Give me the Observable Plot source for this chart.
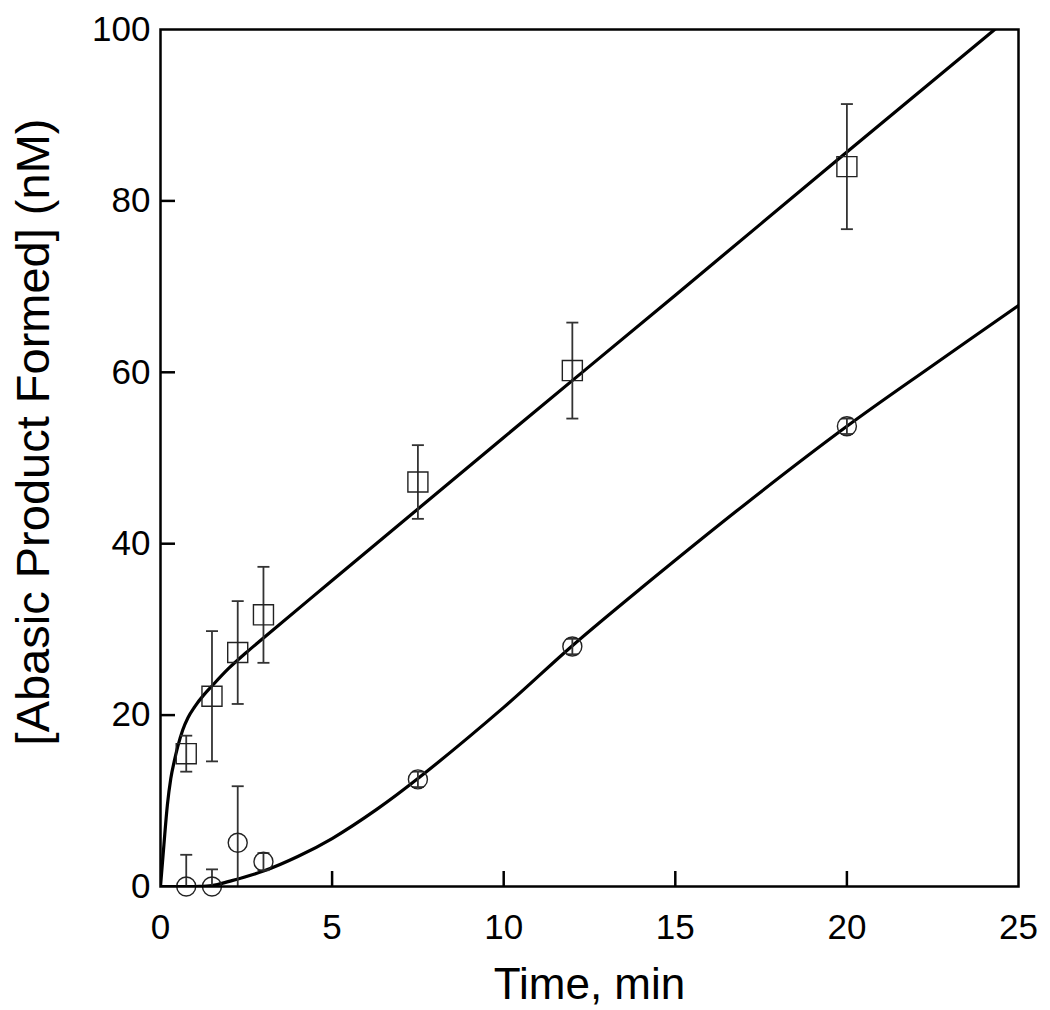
<!DOCTYPE html>
<html>
<head>
<meta charset="utf-8">
<script src="https://cdn.jsdelivr.net/npm/d3@7"></script>
<script src="https://cdn.jsdelivr.net/npm/@observablehq/plot@0.6"></script>
<style>
  html, body { margin: 0; padding: 0; background: #fff; }
</style>
</head>
<body>
<div id="chart"></div>
<script>
// ---- data ----
const xTicks = [0, 5, 10, 15, 20, 25];
const yTicks = [0, 20, 40, 60, 80, 100];
const xInnerTicks = [5, 10, 15, 20];
const yInnerTicks = [20, 40, 60, 80];

// squares
const sqTime = [0.75, 1.5, 2.25, 3, 7.5, 12, 20];
const sqValue = [15.5, 22.2, 27.3, 31.7, 47.2, 60.2, 84.0];
const sqError = [2.1, 7.6, 6.0, 5.6, 4.3, 5.6, 7.3];

// circles
const ciTime = [0.75, 1.5, 2.25, 3, 7.5, 12, 20];
const ciValue = [0, 0, 5.1, 2.9, 12.5, 28.0, 53.7];
const ciError = [3.7, 2.0, 6.6, 1.0, 0.9, 0.9, 0.9];

// fitted curves
const fitSqTime = [0, 0.1, 0.2, 0.3, 0.4, 0.5, 0.65, 0.8, 1, 1.25, 1.5, 2, 2.5, 3, 5, 10, 15, 20, 25];
const fitSqValue = [0, 4.9, 9.5, 12.6, 14.6, 16.3, 18.3, 19.7, 21.0, 22.3, 23.4, 25.5, 27.3, 29.0, 35.7, 52.4, 69.0, 85.7, 102.3];
const fitCiTime = [0, 1, 1.5, 2, 3, 4, 5, 6.3, 7.5, 10, 12, 14, 17, 20, 22.5, 25];
const fitCiValue = [0, 0, 0.1, 0.6, 1.8, 3.5, 5.6, 9.0, 12.6, 20.9, 28.1, 34.8, 44.5, 53.7, 60.8, 67.8];

const xLabel = "Time, min";
const yLabel = "[Abasic Product Formed] (nM)";

// ---- tables built from the arrays ----
const squares = sqTime.map((t, i) => ({t, v: sqValue[i], e: sqError[i]}));
const circles = ciTime.map((t, i) => ({t, v: ciValue[i], e: ciError[i]}));
const fitSq = fitSqTime.map((t, i) => ({t, v: fitSqValue[i]}));
const fitCi = fitCiTime.map((t, i) => ({t, v: fitCiValue[i]}));

const capSymbol = {
  draw(context, size) {
    const r = Math.sqrt(size / Math.PI);
    context.moveTo(-r, 0);
    context.lineTo(r, 0);
  }
};

function errorMarks(data) {
  return [
    Plot.link(data, {x1: "t", x2: "t", y1: d => d.v - d.e, y2: d => d.v + d.e,
      stroke: "#333", strokeWidth: 1.8, clip: true}),
    Plot.dot(data, {x: "t", y: d => d.v + d.e, symbol: capSymbol, r: 6,
      stroke: "#333", strokeWidth: 1.8, fill: "none", clip: true}),
    Plot.dot(data, {x: "t", y: d => d.v - d.e, symbol: capSymbol, r: 6,
      stroke: "#333", strokeWidth: 1.8, fill: "none", clip: true})
  ];
}

const W = 1050, H = 1010, ML = 160, MR = 32, MT = 29, MB = 124;
const frameW = W - ML - MR, frameH = H - MT - MB, tickLen = 15;

const chart = Plot.plot({
  width: W,
  height: H,
  marginLeft: ML,
  marginRight: MR,
  marginTop: MT,
  marginBottom: MB,
  style: {fontFamily: "'Liberation Sans', Arial, Helvetica, sans-serif", color: "#000", background: "#fff", overflow: "visible"},
  x: {domain: [0, 25]},
  y: {domain: [0, 100]},
  marks: [
    // inward tick marks
    Plot.tickX(xInnerTicks, {x: d => d, insetTop: frameH - tickLen, stroke: "#000", strokeWidth: 2.5}),
    Plot.ruleY(yInnerTicks, {y: d => d, insetRight: frameW - tickLen, stroke: "#000", strokeWidth: 2.5}),
    // tick labels
    Plot.axisX(xTicks, {tickSize: 0, tickPadding: 28, fontSize: 35, fill: "#000", label: null}),
    Plot.axisY(yTicks, {tickSize: 0, tickPadding: 10, fontSize: 35, fill: "#000", label: null}),
    // axis titles
    Plot.text([xLabel], {text: d => d, frameAnchor: "bottom", dy: 112, fontSize: 44, fill: "#000"}),
    Plot.text([yLabel], {text: d => d, frameAnchor: "left", textAnchor: "middle", rotate: -90, dx: -127, dy: -26, fontSize: 47, fill: "#000"}),
    // fitted curves
    Plot.line(fitSq, {x: "t", y: "v", stroke: "#000", strokeWidth: 3.2, curve: "monotone-x", clip: true}),
    Plot.line(fitCi, {x: "t", y: "v", stroke: "#000", strokeWidth: 3.2, curve: "catmull-rom", clip: true}),
    // error bars
    ...errorMarks(squares),
    ...errorMarks(circles),
    // markers
    Plot.dot(squares, {x: "t", y: "v", symbol: "square", r: 11.3, stroke: "#222", strokeWidth: 1.4, fill: "none"}),
    Plot.dot(circles, {x: "t", y: "v", symbol: "circle", r: 9.5, stroke: "#222", strokeWidth: 1.4, fill: "none"}),
    Plot.frame({stroke: "#000", strokeWidth: 2.5})
  ]
});

document.getElementById("chart").append(chart);
</script>
</body>
</html>
